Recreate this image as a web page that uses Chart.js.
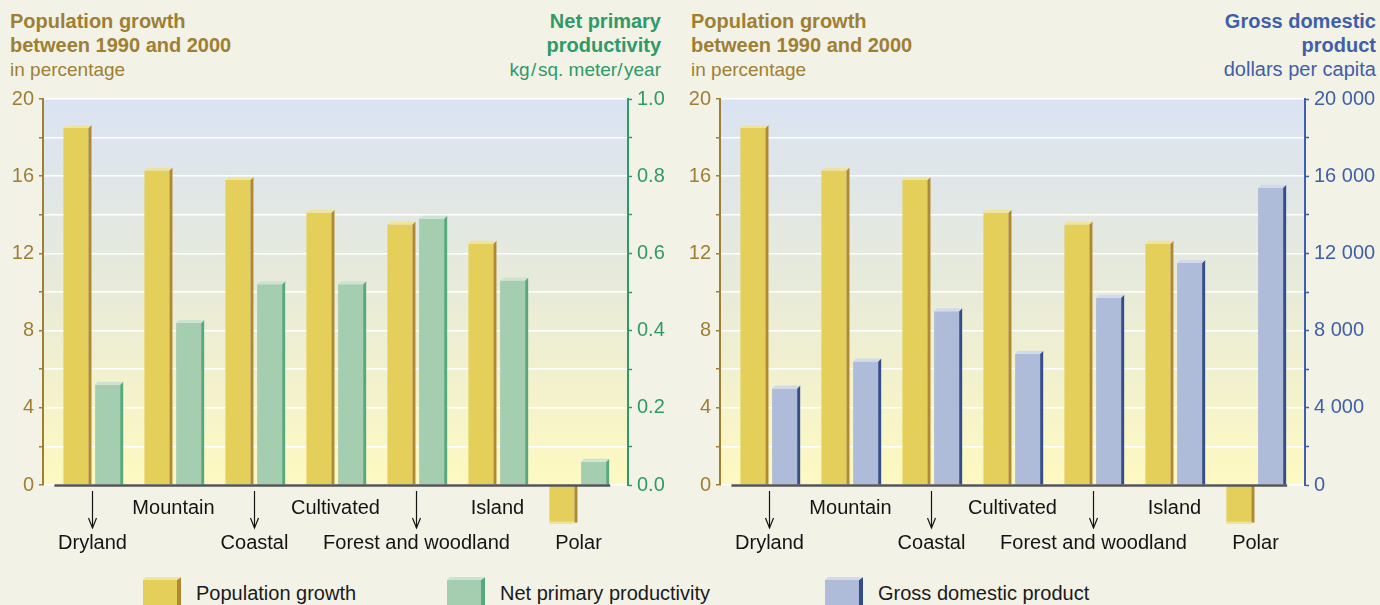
<!DOCTYPE html>
<html><head><meta charset="utf-8">
<script src="https://cdn.jsdelivr.net/npm/chart.js@4"></script>
<style>
html,body{margin:0;padding:0;background:#F3F2E7;width:1380px;height:605px;overflow:hidden;font-family:"Liberation Sans",Arial,sans-serif;}
canvas{position:absolute;top:0;}
.t{position:absolute;top:9px;font-size:20px;line-height:24px;white-space:nowrap;}
.t b{font-weight:bold;}
.t span{font-size:19px;}
.lgt{position:absolute;top:581px;font-size:20px;line-height:24px;color:#1a1a1a;white-space:nowrap;}
.sw{position:absolute;}
</style>
</head><body>
<div class="t" style="left:10px;color:#9E7F34"><b>Population growth<br>between 1990 and 2000</b><br><span>in percentage</span></div>
<div class="t" style="right:719px;text-align:right;color:#2F9A68"><b>Net primary<br>productivity</b><br><span>kg&#8202;/&#8202;sq. meter/&#8202;year</span></div>
<div class="t" style="left:691px;color:#9E7F34"><b>Population growth<br>between 1990 and 2000</b><br><span>in percentage</span></div>
<div class="t" style="right:4px;text-align:right;color:#3F5FA8"><b>Gross domestic<br>product</b><br><span style="font-size:20px">dollars per capita</span></div>
<canvas id="c1" width="704" height="555" style="left:0px"></canvas>
<canvas id="c2" width="704" height="555" style="left:677px"></canvas>
<div id="legend"></div>
<script>
// ---------- data ----------
const categories = ['Dryland', 'Mountain', 'Coastal', 'Cultivated', 'Forest and woodland', 'Island', 'Polar'];
const labelRow   = [2, 1, 2, 1, 2, 1, 2];
const labelArrow = [true, false, true, false, true, false, false];
const popGrowth  = [18.5, 16.3, 15.8, 14.1, 13.5, 12.5, -2.0];      // % growth 1990-2000
const netPrimary = [0.26, 0.42, 0.52, 0.52, 0.69, 0.53, 0.06];      // kg / sq. meter / year
const gdp        = [5000, 6400, 9000, 6800, 9700, 11500, 15400];    // dollars per capita
const popTicks   = [0, 4, 8, 12, 16, 20];
const nppTicks   = ['0.0', '0.2', '0.4', '0.6', '0.8', '1.0'];
const gdpTicks   = ['0', '4 000', '8 000', '12 000', '16 000', '20 000'];
const legendItems = ['Population growth', 'Net primary productivity', 'Gross domestic product'];

// ---------- styles ----------
const FONT = '"Liberation Sans", Arial, sans-serif';
const GOLD = '#9E7F34', GREEN = '#2F9A68', BLUE = '#3F5FA8';
const COL = {
  pop:  {front: '#E4CF5B', side: '#B08933', top: '#F0E39C'},
  npp:  {front: '#A5CDB0', side: '#56A97F', top: '#CBE4D2'},
  gdp:  {front: '#AEBBD9', side: '#344E8D', top: '#D2D9EC'}
};
Chart.defaults.font.family = FONT;

class PaddedCategoryScale extends Chart.CategoryScale {
  buildTicks() {
    const t = super.buildTicks();
    this._startValue -= 0.1025;
    this._valueRange += 0.2225;
    return t;
  }
}
PaddedCategoryScale.id = 'paddedCategory';
PaddedCategoryScale.defaults = Chart.CategoryScale.defaults;
Chart.register(PaddedCategoryScale);

const bgPlugin = {
  id: 'bg',
  beforeDraw(chart) {
    const {ctx, chartArea: a} = chart;
    const g = ctx.createLinearGradient(0, a.top, 0, a.bottom);
    g.addColorStop(0, '#DAE3F3');
    g.addColorStop(0.5, '#E8EBD9');
    g.addColorStop(1, '#FEF9C1');
    ctx.save(); ctx.fillStyle = g;
    ctx.fillRect(a.left, a.top, a.right - a.left, a.bottom - a.top);
    ctx.restore();
  }
};

const depthPlugin = {
  id: 'depth',
  afterDatasetsDraw(chart) {
    const ctx = chart.ctx, d = 3;
    chart.data.datasets.forEach((ds, di) => {
      chart.getDatasetMeta(di).data.forEach(bar => {
        const {x, y, base, width} = bar.getProps(['x', 'y', 'base', 'width'], true);
        const l = x - width / 2, r = x + width / 2;
        ctx.save();
        if (y <= base) {
          ctx.fillStyle = ds.sideColor;
          ctx.beginPath(); ctx.moveTo(r, y); ctx.lineTo(r + d, y - d); ctx.lineTo(r + d, base); ctx.lineTo(r, base); ctx.closePath(); ctx.fill();
          ctx.fillStyle = ds.topColor;
          ctx.beginPath(); ctx.moveTo(l, y); ctx.lineTo(l + d, y - d); ctx.lineTo(r + d, y - d); ctx.lineTo(r, y); ctx.closePath(); ctx.fill();
        } else {
          ctx.fillStyle = ds.sideColor;
          ctx.fillRect(r, base, d, y - base - 1);
          ctx.fillStyle = ds.topColor;
          ctx.fillRect(l, y - 2, width, 2);
        }
        ctx.restore();
      });
    });
  }
};

const catPlugin = {
  id: 'cats',
  afterDatasetsDraw(chart) {
    const ctx = chart.ctx, xs = chart.scales.x, a = chart.chartArea;
    const first = chart.getDatasetMeta(0).data[0];
    const lastData = chart.getDatasetMeta(1).data;
    const last = lastData[lastData.length - 1];
    const x0 = first.x - first.width / 2 - 9;
    const x1 = last.x + last.width / 2 + 4;
    ctx.save();
    ctx.strokeStyle = '#555555'; ctx.lineWidth = 2.5;
    ctx.beginPath(); ctx.moveTo(x0, a.bottom + 0.5); ctx.lineTo(x1, a.bottom + 0.5); ctx.stroke();
    ctx.font = '20px ' + FONT; ctx.fillStyle = '#141414';
    ctx.textAlign = 'center'; ctx.textBaseline = 'middle';
    ctx.strokeStyle = '#141414'; ctx.lineWidth = 1.2;
    categories.forEach((c, i) => {
      const x = Math.round(xs.getPixelForValue(i)) + 0.5;
      ctx.fillText(c, x, a.bottom + (labelRow[i] === 1 ? 23 : 58));
      if (labelArrow[i]) {
        const tip = a.bottom + 43;
        ctx.beginPath(); ctx.moveTo(x, a.bottom + 6); ctx.lineTo(x, tip); ctx.stroke();
        ctx.beginPath(); ctx.moveTo(x - 4, tip - 10); ctx.lineTo(x, tip); ctx.lineTo(x + 4, tip - 10); ctx.stroke();
      }
    });
    ctx.restore();
  }
};

function makeChart(id, rightLabel, rightData, rightMax, rightTickLabels, rightColor, rc) {
  const rightStep = rightMax / 10;
  new Chart(document.getElementById(id), {
    type: 'bar',
    data: {
      labels: categories,
      datasets: [
        {label: 'Population growth', data: popGrowth, yAxisID: 'y', backgroundColor: COL.pop.front,
         sideColor: COL.pop.side, topColor: COL.pop.top, clip: false,
         categoryPercentage: 0.783, barPercentage: 0.79, borderWidth: 0},
        {label: rightLabel, data: rightData, yAxisID: 'y2', backgroundColor: rc.front,
         sideColor: rc.side, topColor: rc.top, clip: false,
         categoryPercentage: 0.783, barPercentage: 0.79, borderWidth: 0}
      ]
    },
    options: {
      responsive: false, animation: false, devicePixelRatio: 1,
      layout: {padding: {top: 99, bottom: 70, left: 0, right: 0}},
      plugins: {legend: {display: false}, tooltip: {enabled: false}},
      scales: {
        x: {type: 'paddedCategory', display: false, offset: true},
        y: {
          position: 'left', min: 0, max: 20,
          afterFit(s) { s.width = 43; },
          ticks: {stepSize: 2, autoSkip: false, color: GOLD, padding: 5, font: {size: 20},
                  callback: v => popTicks.includes(v) ? String(v) : ''},
          grid: {color: '#FFFFFF', lineWidth: 1.5, tickColor: GOLD, tickLength: 4, tickWidth: 1.5},
          border: {color: GOLD, width: 2}
        },
        y2: {
          position: 'right', min: 0, max: rightMax,
          afterFit(s) { s.width = 76; },
          ticks: {stepSize: rightStep, autoSkip: false, color: rightColor, padding: 5, font: {size: 20},
                  callback: v => { const k = Math.round(v / rightStep); return k % 2 === 0 ? rightTickLabels[k / 2] : ''; }},
          grid: {drawOnChartArea: false, tickColor: rightColor, tickLength: 4, tickWidth: 1.5},
          border: {color: rightColor, width: 2}
        }
      }
    },
    plugins: [bgPlugin, depthPlugin, catPlugin]
  });
}

makeChart('c1', 'Net primary productivity', netPrimary, 1, nppTicks, GREEN, COL.npp);
makeChart('c2', 'Gross domestic product', gdp, 20000, gdpTicks, BLUE, COL.gdp);

// ---------- legend ----------
const legendX = [143, 447, 825];
const legendCols = [COL.pop, COL.npp, COL.gdp];
const lg = document.getElementById('legend');
legendItems.forEach((txt, i) => {
  const x = legendX[i], c = legendCols[i];
  lg.insertAdjacentHTML('beforeend',
    `<div class="sw" style="left:${x}px;top:580px;width:34px;height:30px;background:${c.front}"></div>` +
    `<div class="sw" style="left:${x + 34}px;top:577px;width:4px;height:33px;background:${c.side};clip-path:polygon(0 3px,100% 0,100% 100%,0 100%)"></div>` +
    `<div class="sw" style="left:${x}px;top:577px;width:38px;height:3px;background:${c.top};clip-path:polygon(0 100%,3px 0,100% 0,34px 100%)"></div>` +
    `<div class="lgt" style="left:${x + 53}px">${txt}</div>`);
});
</script>
</body></html>
